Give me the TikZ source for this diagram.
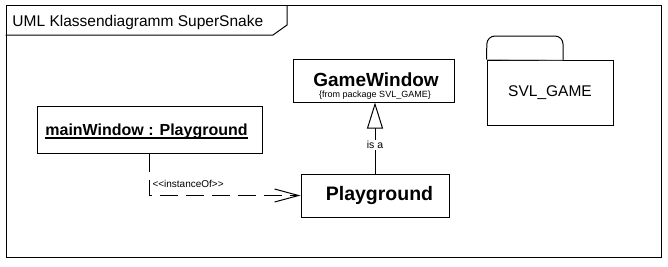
\documentclass[tikz,border=0pt]{standalone}
\usepackage{fontspec}
\setmainfont{Liberation Sans}
\usetikzlibrary{arrows.meta}
\begin{document}
\begin{tikzpicture}[x=1pt,y=-1pt,line width=1pt,
  umlbox/.style={draw,line width=1pt,inner sep=0pt,minimum width=#1},
  txt/.style={inner sep=0pt,anchor=base},
  fs/.style={font=\fontsize{#1}{#1}\selectfont}]
\useasboundingbox (0,0) rectangle (668,266);
% frame
\node[draw,line width=1pt,minimum width=655pt,minimum height=252pt,inner sep=0pt] (frame) at (333.5,131) {};
\draw (frame.west |- 0,35) coordinate (tabl) -- (273,35) -- (287,25) -- (287,5) coordinate (tabt);
\node[txt,anchor=base west,fs=15.5] (title) at (12,26) {UML Klassendiagramm SuperSnake};
% GameWindow
\node[umlbox=161pt,minimum height=43pt] (gw) at (373.5,80.5) {};
\node[txt,font=\fontsize{19}{19}\selectfont\bfseries] (gwname) at (376,86.5) {GameWindow};
\node[txt,fs=9] (gwpkg) at (375,97) {\{from package SVL\_GAME\}};
% Playground
\node[umlbox=148pt,minimum height=43pt] (pg) at (375,195.5) {};
\node[txt,font=\fontsize{19.5}{19.5}\selectfont\bfseries] (pgname) at (379.5,200.5) {Playground};
% mainWindow
\node[umlbox=225pt,minimum height=47pt] (mw) at (149.5,129.5) {};
\node[txt,font=\fontsize{16}{16}\selectfont\bfseries] (mwname) at (146.5,135) {mainWindow : Playground};
\draw[line width=1.4pt] ([yshift=-3pt]mwname.base west) -- ([yshift=-3pt]mwname.base east);
% package
\node[draw,line width=1pt,inner sep=0pt,minimum width=126pt,minimum height=65pt] (pkg) at (550,92.5) {};
\draw[rounded corners=8pt] (pkg.north west) -- (487,36) -- (563,36) -- (563,60);
\draw[gray!60,line width=0.8pt] ([xshift=0.5pt]pkg.north west) -- (562.5,60);
\node[txt,fs=15.5] (pkgname) at (550,96.5) {SVL\_GAME};
% generalization
\draw[-{Triangle[open,length=26pt,width=16pt]}] (pg.north) -- (pg.north |- gw.south)
  node[pos=0.4,fill=white,inner sep=1.5pt,fs=10.5] (isa) {is a};
% instanceOf
\draw[dash pattern=on 18pt off 8pt,-{Straight Barb[length=24pt,width=13pt]}] (mw.south) |- (pg.west);
\node[txt,anchor=base west,fs=10] (inst) at (152,187.5) {<{}<instanceOf>{}>};
\end{tikzpicture}
\end{document}
